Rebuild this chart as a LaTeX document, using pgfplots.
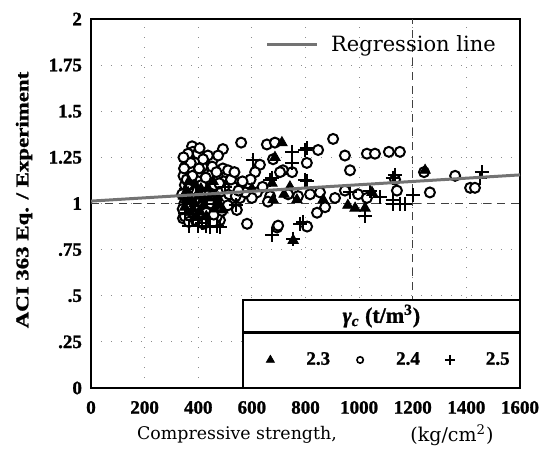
\documentclass[border=0pt]{standalone}
\usepackage{fontspec}
\setmainfont{Liberation Serif}
\newfontfamily\mincho{DejaVu Serif}
\newfontfamily\tickfont{Liberation Serif}[FakeBold=1.2]
\usepackage{pgfplots}
\pgfplotsset{compat=1.18}
\begin{document}
\begin{tikzpicture}
\useasboundingbox (-45.5pt,-31pt) rectangle (227pt,194pt);
\begin{axis}[
 scale only axis, width=214.5pt, height=184.5pt,
 xmin=0, xmax=1600, ymin=0, ymax=2,
 xtick={0,200,400,600,800,1000,1200,1400,1600},
 ytick={0,0.25,0.5,0.75,1,1.25,1.5,1.75,2},
 xticklabels={0,200,400,600,800,1000,1200,1400,1600},
 yticklabels={0,.25,.5,.75,1,1.25,1.5,1.75,2},
 every tick label/.append style={font=\tickfont\bfseries\fontsize{9.5}{10}\selectfont},
 xticklabel style={yshift=-3pt},
 yticklabel style={xshift=-1pt},
 major tick length=0pt,
 grid=major,
 major grid style={black!45, line width=0.4pt, dash pattern=on 0.5pt off 4.5pt},
 axis line style={line width=1pt},
 extra x ticks={1200}, extra y ticks={1},
 extra x tick labels={}, extra y tick labels={},
 extra tick style={grid=major, major grid style={black!75, line width=0.5pt, dash pattern=on 4pt off 3pt}},
 legend columns=3,
 legend style={at={(axis description cs:0.690,0.076)}, anchor=center, draw=none, fill=none,
   font=\tickfont\bfseries\fontsize{9.5}{10}\selectfont,
   /tikz/every even column/.append style={column sep=8pt}},
 legend image code/.code={\path[draw=none,fill=none] (0pt,0pt) -- (21pt,0pt); \draw[#1] plot coordinates {(5pt,0pt)};},
]
\addplot[only marks, mark=*, mark size=2.5pt, mark options={fill=white, draw=black, line width=1pt}, forget plot] coordinates {
(377,1.31)(380,1.28)(560,1.33)(492,1.295)(455,1.24)(474,1.26)(358,1.225)(351,1.20)(433,1.19)(492,1.19)(511,1.18)(656,1.32)(686,1.33)(679,1.24)(630,1.21)(612,1.17)(369,1.14)(414,1.14)(518,1.12)(544,1.11)(585,1.11)(470,1.08)(556,1.03)(526,1.03)(619,1.06)(455,1.00)(481,1.00)(544,0.965)(343,0.92)(481,0.91)(582,0.89)(694,0.87)(380,1.02)(418,1.00)(444,0.965)
(847,1.29)(903,1.35)(947,1.26)(966,1.18)(1029,1.27)(1059,1.27)(1111,1.28)(1152,1.28)(805,1.22)(716,1.18)(750,1.17)(705,1.17)(735,1.05)(772,1.04)(817,1.05)(854,1.06)(910,1.03)(947,1.07)(996,1.05)(1029,1.03)(1141,1.07)(1134,1.13)(873,0.98)(843,0.95)(698,0.88)(806,0.875)(668,1.04)(1242,1.17)(1358,1.15)(1414,1.085)(1432,1.085)(1264,1.06)
(345,1.15)(350,1.10)(352,1.05)(348,1.00)(355,0.96)(350,0.93)(362,1.27)(370,1.18)(375,1.10)(385,1.07)(390,1.22)(395,1.16)(400,1.12)(402,1.04)(408,0.98)(410,0.94)(415,1.20)(420,1.08)(425,1.03)(430,0.95)(435,0.92)(440,1.12)(445,1.06)(450,1.16)(460,1.10)(462,1.04)(465,0.97)(470,0.93)(475,1.14)(485,1.06)(495,1.12)(500,1.02)(505,1.08)(515,1.05)(530,1.09)(540,1.04)(365,0.90)(390,0.91)(420,0.89)(372,1.22)(360,1.03)(398,1.27)(405,1.30)(436,1.26)(345,1.25)(383,0.97)(455,0.90)(600,1.03)(640,1.09)(660,1.01)(575,1.06)(595,1.13)
(340,1.05)(342,0.97)(347,1.19)(357,1.13)(363,1.08)(368,0.98)(378,1.15)(388,1.02)(393,0.96)(403,1.19)(412,1.10)(418,1.24)(428,1.14)(432,1.06)(448,1.00)(452,1.20)(458,0.94)(468,1.17)(478,1.11)(488,0.96)(510,0.99)(522,1.13)(535,1.17)(550,1.07)(565,1.12)
};
\addplot[only marks, mark=triangle*, mark size=3pt, black, forget plot] coordinates {
(362,1.06)(370,1.02)(380,0.97)(399,1.04)(410,1.08)(420,0.99)(440,1.03)(460,0.97)(492,0.965)(350,0.98)(390,1.10)(430,0.93)(475,1.03)(395,0.93)(455,1.12)(365,1.12)(480,0.99)(712,1.33)(686,1.25)(675,1.11)(679,1.02)(768,1.02)(742,1.09)(866,1.02)(958,0.99)(985,0.975)(1022,0.975)(1048,1.06)(754,0.80)(1246,1.18)(720,1.05)(600,1.08)(355,1.02)(372,0.95)
(345,1.04)(385,1.00)(405,0.96)(415,1.02)(435,1.08)(450,1.05)(470,1.01)
};
\addplot[only marks, mark=+, mark size=3.5pt, line width=1pt, black, forget plot] coordinates {
(604,1.235)(668,1.13)(414,0.895)(444,0.875)(481,0.87)(675,0.83)(380,0.91)(750,1.28)(806,1.30)(675,1.14)(750,1.22)(806,1.12)(1022,0.93)(1078,1.035)(1126,1.02)(791,0.90)(1126,1.14)(966,1.06)(1041,1.07)(1134,1.155)(1458,1.17)(1451,1.14)(1126,1.0)(1152,1.0)(1171,1.0)(1201,1.045)(798,1.29)(754,0.81)(400,0.88)(355,1.08)(375,1.00)(425,1.05)(460,1.00)(500,1.09)(540,0.99)(780,0.89)(798,1.13)
(365,0.88)(390,1.05)(430,0.88)(470,0.88)(350,0.95)
};
\draw[fill=white, line width=0.6pt] (axis cs:567,0) rectangle (axis cs:1600,0.295);
\draw[fill=white, line width=1pt] (axis cs:567,0.305) rectangle (axis cs:1600,0.477);
\node[font=\tickfont\bfseries\fontsize{11}{12}\selectfont] at (axis cs:1083,0.39) {\textit{γ}\textsubscript{\textit{c}} (t/m\textsuperscript{3})};
\addlegendimage{only marks, mark=triangle*, mark size=2.3pt, black}
\addlegendentry{2.3}
\addlegendimage{only marks, mark=o, mark size=1.6pt, black, line width=0.8pt}
\addlegendentry{2.4}
\addlegendimage{only marks, mark=+, mark size=2.5pt, black, line width=0.9pt}
\addlegendentry{2.5}
\end{axis}
\begin{axis}[
 scale only axis, width=214.5pt, height=184.5pt,
 xmin=0, xmax=1600, ymin=0, ymax=2, hide axis,
 legend style={at={(axis description cs:0.406,0.93)}, anchor=west, draw=none, fill=none, inner sep=0pt,
   font=\mincho\fontsize{10.5}{12}\selectfont},
 legend image code/.code={\draw[#1] (0pt,0pt) -- (25pt,0pt); \path[draw=none] (25pt,0pt) -- (30pt,0pt);},
]
\addplot[black!55, line width=1.5pt] coordinates {(0,1.013) (1600,1.155)};
\addlegendentry{Regression line}
\end{axis}
\node[rotate=90, font=\tickfont\bfseries\fontsize{9}{10}\selectfont] at (-33.5pt,94pt) {\scalebox{1.27}[1]{ACI 363 Eq. / Experiment}};
\node[font=\mincho\fontsize{8.7}{11}\selectfont] at (73pt,-23.5pt) {Compressive strength,};
\node[font=\mincho\fontsize{9.5}{11}\selectfont] at (180.5pt,-23.5pt) {(kg/cm\textsuperscript{2})};
\end{tikzpicture}
\end{document}
